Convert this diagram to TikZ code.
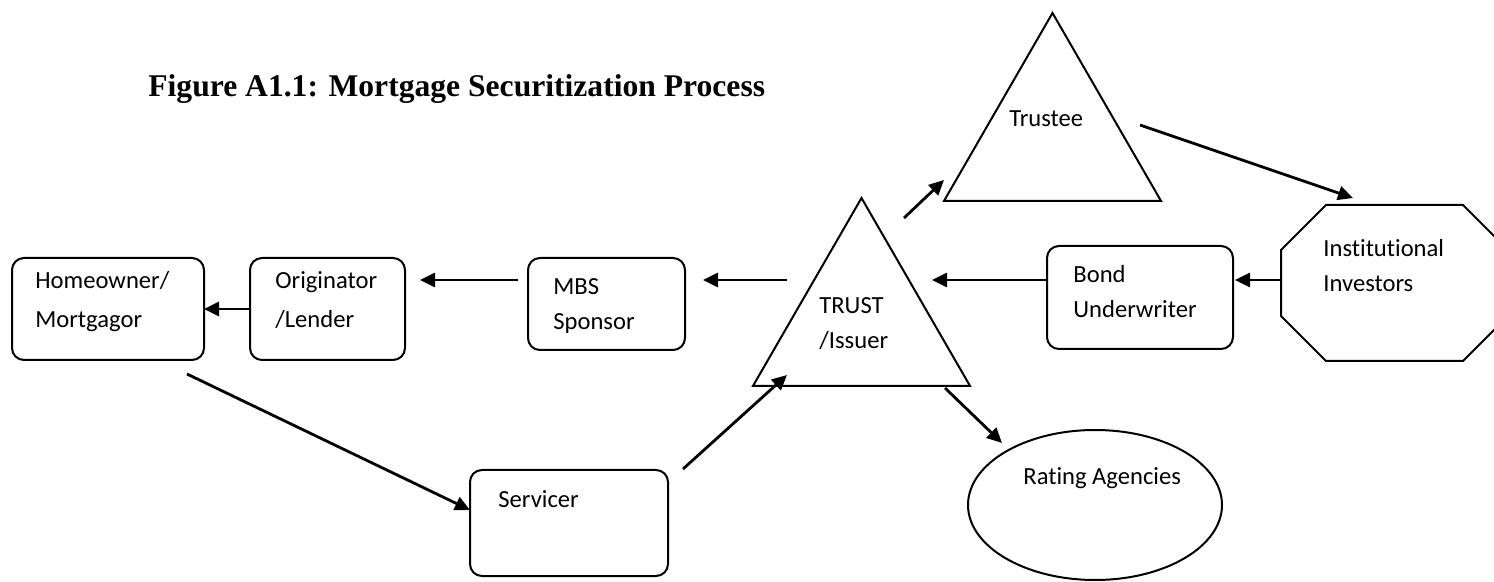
\documentclass[tikz,border=0pt]{standalone}
\usepackage{fontspec}
\setmainfont{Carlito}[Ligatures=NoCommon]
\newfontfamily\titlefont{Liberation Serif}
\usetikzlibrary{arrows.meta,shapes,positioning,calc}

\tikzset{
  box/.style={draw, line width=1pt, rounded corners=6pt, inner sep=0pt, outer sep=0pt},
  tri/.style={draw, line width=1pt, regular polygon, regular polygon sides=3,
    minimum size=125.3pt, inner sep=0pt, outer sep=0pt},
  txt/.style={anchor=base west, inner sep=0pt, align=left,
    font=\fontsize{12.3}{17.5}\selectfont},
  wide/.style={font=\fontsize{12.3}{19.5}\selectfont},
  flow/.style={line width=1.4pt, -{Triangle[length=7.5pt,width=7pt]}},
  heading/.style={anchor=base west, inner sep=0pt,
    font=\titlefont\bfseries\fontsize{15.8}{18}\selectfont}
}

\begin{document}
\begin{tikzpicture}[x=0.5pt,y=-0.5pt]
  \useasboundingbox (0,0) rectangle (1494,582);
  \node[heading] (title) at (148,97) {Figure A1.1: Mortgage Securitization Process};

  % parties
  \node[box, minimum width=96pt, minimum height=51pt] (home) at (108,309) {};
  \node[box, minimum width=77.5pt, minimum height=51pt] (orig) at (327.5,309) {};
  \node[box, minimum width=78.5pt, minimum height=46pt] (mbs) at (606.5,304) {};
  \node[box, minimum width=99pt, minimum height=53pt] (serv) at (569,523) {};
  \node[box, minimum width=93pt, minimum height=51.5pt] (bond) at (1140,297.5) {};
  \node[tri] (trust) at (861.5,323.3) {};
  \node[tri] (trustee) at (1052.5,138.3) {};
  \node[draw, ellipse, line width=1pt, minimum width=127pt, minimum height=75pt,
    inner sep=0pt] (rating) at (1095,505) {};
  \node[minimum width=113.5pt, minimum height=78pt, inner sep=0pt, outer sep=0pt] (inst) at (1394.5,283) {};
  \draw[line width=1pt, shift={(inst.north west)}] (0,45) -- (45,0) -- (182,0) -- (227,45)
    -- (227,111) -- (182,156) -- (45,156) -- (0,111) -- cycle;

  % labels (base = last line)
  \node[txt, wide] (hometxt) at (35,328) {Homeowner/\\Mortgagor};
  \node[txt, wide] (origtxt) at (275,328) {Originator\\/Lender};
  \node[txt] (mbstxt) at (553,330) {MBS\\Sponsor};
  \node[txt] (servtxt) at (498,508) {Servicer};
  \node[txt] (trusttxt) at (819,349) {TRUST\\/Issuer};
  \node[txt] (trusteetxt) at (1009,127) {Trustee};
  \node[txt] (bondtxt) at (1073,318) {Bond\\Underwriter};
  \node[txt] (insttxt) at (1323,292) {Institutional\\Investors};
  \node[txt] (ratingtxt) at (1023,485) {Rating Agencies};

  % flows
  \draw[flow] (orig.west) -- (home.east);
  \draw[flow] ([shift={(-10,-24)}]mbs.west) -- ([shift={(15,-29)}]orig.east);
  \draw[flow] ([shift={(-74.5,-43.3)}]trust.center) -- ([shift={(18,-24)}]mbs.east);
  \draw[flow] ([shift={(0,-17.5)}]bond.west) -- ([shift={(70.5,-43.3)}]trust.center);
  \draw[flow] ([shift={(0,-3)}]inst.west) -- ([shift={(2,-17.5)}]bond.east);
  \draw[flow] ([shift={(79,14)}]home.south) -- ([shift={(0,-13)}]serv.west);
  \draw[flow] ([shift={(15,-1)}]serv.north east) -- ([shift={(-74.5,51.7)}]trust.center);
  \draw[flow] ([shift={(42.5,-105.3)}]trust.center) -- ([shift={(-108.5,41.7)}]trustee.center);
  \draw[flow] ([shift={(87.5,-13.3)}]trustee.center) -- ([shift={(-41.5,-7)}]inst.north);
  \draw[flow] ([shift={(83.5,64.7)}]trust.center) -- ([shift={(-93,-62)}]rating.center);
\end{tikzpicture}
\end{document}
